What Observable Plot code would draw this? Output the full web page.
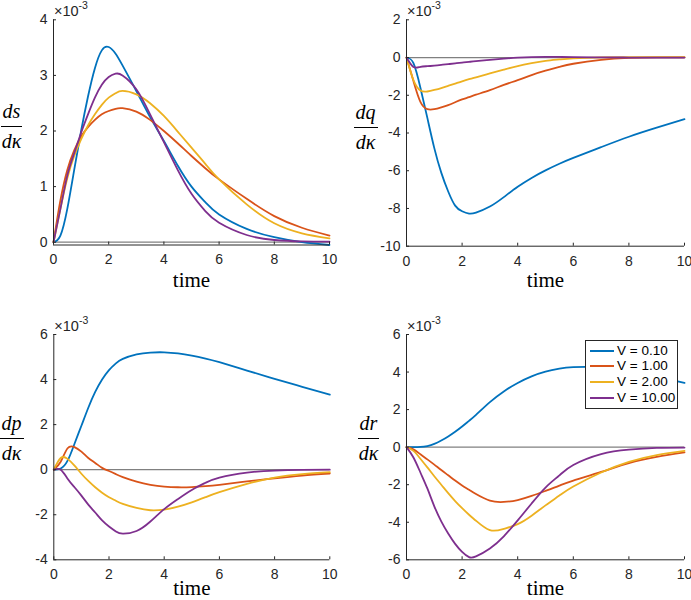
<!DOCTYPE html>
<html>
<head>
<meta charset="utf-8">
<script src="https://cdn.jsdelivr.net/npm/d3@7"></script>
<script src="https://cdn.jsdelivr.net/npm/@observablehq/plot@0.6"></script>
<style>
  body { margin: 0; background: #fff; }
  #fig { position: relative; width: 691px; height: 600px; overflow: hidden; background: #fff;
         font-family: "Liberation Sans", Arial, sans-serif; color: #262626; }
  .panel { position: absolute; }
  .frac { position: absolute; width: 40px; text-align: center; font-family: "Liberation Serif", serif;
          font-style: italic; font-size: 20px; color: #000; }
  .frac .num { display: inline-block; line-height: 20px; height: 20px; padding: 0 2px 5px 2px; border-bottom: 1px solid #000; }
  .frac .den { line-height: 20px; height: 20px; margin-top: 4px; }
  .expo { position: absolute; font-size: 14.5px; line-height: 14px; color: #262626; white-space: nowrap; }
  .expo .sup { position: relative; top: -7px; font-size: 10.5px; }
  .legend { position: absolute; background: #fff; border: 1px solid #262626; box-sizing: border-box; }
  .legend .row { position: absolute; left: 0; height: 16px; font-size: 13.5px; line-height: 16px; white-space: nowrap; color: #000; }
  .legend .sw { position: absolute; left: 4px; top: 7px; width: 24px; height: 2px; }
  .legend .lab { position: absolute; left: 31px; top: 0; }
</style>
</head>
<body>
<div id="fig"></div>
<script>
// ---- data (values in units of 10^-3) ----
const t = [0, 0.25, 0.5, 0.75, 1, 1.25, 1.5, 1.75, 2, 2.25, 2.5, 3, 3.5, 4, 4.5, 5, 5.5, 6, 7, 8, 9, 10];
const seriesNames = ["V = 0.10", "V = 1.00", "V = 2.00", "V = 10.00"];
const seriesColors = ["#0072BD", "#D95319", "#EDB120", "#7E2F8E"];
const xTicks = [0, 2, 4, 6, 8, 10];
const xLabel = "time";

// ds/dκ
const ds_V010 = [0, 0.12, 0.6, 1.3, 2.0, 2.62, 3.13, 3.45, 3.51, 3.39, 3.18, 2.72, 2.25, 1.82, 1.38, 1.0, 0.72, 0.5, 0.24, 0.09, 0.0, -0.05];
const ds_V1   = [0, 0.75, 1.3, 1.65, 1.9, 2.07, 2.2, 2.3, 2.36, 2.4, 2.41, 2.35, 2.2, 2.0, 1.78, 1.55, 1.33, 1.13, 0.78, 0.47, 0.26, 0.12];
const ds_V2   = [0, 0.6, 1.15, 1.55, 1.85, 2.1, 2.3, 2.47, 2.6, 2.68, 2.72, 2.66, 2.5, 2.27, 1.99, 1.7, 1.41, 1.13, 0.68, 0.34, 0.16, 0.07];
const ds_V10  = [0, 0.6, 1.2, 1.6, 1.97, 2.3, 2.6, 2.83, 2.97, 3.03, 3.0, 2.75, 2.3, 1.8, 1.3, 0.87, 0.56, 0.35, 0.13, 0.04, 0.015, 0.01];
const dsTicks = [0, 1, 2, 3, 4];

// dq/dκ
const dq_V010 = [0, -0.3, -1.6, -3.2, -4.8, -6.1, -7.1, -7.85, -8.15, -8.27, -8.22, -7.9, -7.4, -6.85, -6.38, -5.98, -5.63, -5.32, -4.75, -4.2, -3.72, -3.27];
const dq_V1   = [0, -1.25, -2.35, -2.74, -2.74, -2.64, -2.52, -2.37, -2.22, -2.1, -1.97, -1.73, -1.45, -1.2, -0.93, -0.7, -0.5, -0.33, -0.12, -0.02, 0.01, 0.01];
const dq_V2   = [0, -1.2, -1.75, -1.8, -1.72, -1.62, -1.5, -1.38, -1.26, -1.15, -1.05, -0.84, -0.64, -0.45, -0.3, -0.18, -0.1, -0.04, 0.01, 0.02, 0.02, 0.02];
const dq_V10  = [0, -0.5, -0.49, -0.46, -0.43, -0.39, -0.35, -0.31, -0.27, -0.23, -0.19, -0.12, -0.06, -0.01, 0.02, 0.03, 0.03, 0.02, 0.01, 0.0, 0.0, 0.0];
const dqTicks = [-10, -8, -6, -4, -2, 0, 2];

// dp/dκ
const dp_V010 = [0, 0.05, 0.4, 1.15, 1.95, 2.75, 3.45, 4.0, 4.42, 4.72, 4.92, 5.12, 5.2, 5.21, 5.16, 5.06, 4.93, 4.77, 4.4, 4.03, 3.68, 3.33];
const dp_V1   = [0, 0.35, 0.95, 1.0, 0.8, 0.52, 0.3, 0.08, -0.06, -0.2, -0.33, -0.53, -0.67, -0.75, -0.78, -0.77, -0.73, -0.67, -0.52, -0.38, -0.26, -0.17];
const dp_V2   = [0, 0.52, 0.48, 0.18, -0.18, -0.5, -0.78, -1.02, -1.22, -1.38, -1.52, -1.7, -1.8, -1.77, -1.64, -1.45, -1.22, -1.0, -0.63, -0.35, -0.2, -0.11];
const dp_V10  = [0, 0.0, -0.4, -0.78, -1.15, -1.55, -1.9, -2.25, -2.52, -2.74, -2.84, -2.72, -2.3, -1.75, -1.3, -0.9, -0.58, -0.35, -0.13, -0.04, -0.01, 0.0];
const dpTicks = [-4, -2, 0, 2, 4, 6];

// dr/dκ
const dr_V010 = [0, 0.0, 0.01, 0.06, 0.17, 0.35, 0.57, 0.82, 1.1, 1.4, 1.72, 2.4, 2.97, 3.42, 3.77, 4.02, 4.18, 4.26, 4.25, 4.05, 3.75, 3.42];
const dr_V1   = [0, -0.12, -0.38, -0.65, -0.93, -1.22, -1.5, -1.78, -2.04, -2.27, -2.5, -2.85, -2.92, -2.82, -2.6, -2.33, -2.05, -1.78, -1.32, -0.85, -0.52, -0.28];
const dr_V2   = [0, -0.2, -0.62, -1.08, -1.55, -2.0, -2.45, -2.87, -3.25, -3.6, -3.92, -4.42, -4.35, -4.1, -3.65, -3.1, -2.58, -2.1, -1.35, -0.78, -0.42, -0.2];
const dr_V10  = [0, -0.55, -1.35, -2.2, -3.15, -3.95, -4.6, -5.15, -5.58, -5.86, -5.82, -5.4, -4.75, -3.9, -3.0, -2.15, -1.5, -0.95, -0.37, -0.13, -0.04, -0.02];
const drTicks = [-6, -4, -2, 0, 2, 4, 6];

// ---- layout ----
const axisColor = "#262626";
const panels = [
  {left: 0,   top: 0,   w: 345, ml: 53, mr: 16, mt: 19.3, mb: 55.5, dom: [-0.05, 4], ticks: dsTicks, data: [ds_V010, ds_V1, ds_V2, ds_V10], num: "ds", fx: 11.5, fy: 125, xl: 41.5},
  {left: 345, top: 0,   w: 346, ml: 61, mr: 7,  mt: 19.3, mb: 54.3, dom: [-10, 2],   ticks: dqTicks, data: [dq_V010, dq_V1, dq_V2, dq_V10], num: "dq", fx: 20.5, fy: 126, xl: 41},
  {left: 0,   top: 300, w: 345, ml: 53.3, mr: 15.7, mt: 34, mb: 40.7, dom: [-4, 6], ticks: dpTicks, data: [dp_V010, dp_V1, dp_V2, dp_V10], num: "dp", fx: 11.5, fy: 137, xl: 35},
  {left: 345, top: 300, w: 346, ml: 61, mr: 7,  mt: 34, mb: 40.7, dom: [-6, 6],      ticks: drTicks, data: [dr_V010, dr_V1, dr_V2, dr_V10], num: "dr", fx: 23.5, fy: 137, xl: 35, legend: true}
];

const fig = document.getElementById("fig");
const H = 300;

panels.forEach(p => {
  const rows = [];
  p.data.forEach((arr, i) => arr.forEach((v, j) => rows.push({t: t[j], v, s: seriesNames[i]})));
  const plotH = H - p.mt - p.mb;
  const plotW = p.w - p.ml - p.mr;
  const chart = Plot.plot({
    width: p.w, height: H,
    marginLeft: p.ml, marginRight: p.mr, marginTop: p.mt, marginBottom: p.mb,
    x: {domain: [0, 10], label: null},
    y: {domain: p.dom, label: null},
    color: {domain: seriesNames, range: seriesColors},
    style: {fontFamily: "'Liberation Sans', Arial, sans-serif", fontSize: "14px", color: axisColor, background: "transparent", overflow: "visible"},
    marks: [
      Plot.ruleY([0], {stroke: "#808080", strokeWidth: 1.3}),
      Plot.line(rows, {x: "t", y: "v", z: "s", stroke: "s", strokeWidth: 1.8, curve: "natural"}),
      Plot.ruleX([0], {stroke: axisColor, strokeWidth: 1}),
      Plot.ruleY([p.dom[0]], {stroke: axisColor, strokeWidth: 1}),
      Plot.ruleX(xTicks, {stroke: axisColor, insetTop: plotH - 3}),
      Plot.ruleY(p.ticks, {stroke: axisColor, insetRight: plotW - 3}),
      Plot.axisX(xTicks, {tickSize: 0, tickPadding: 9.5, tickFormat: d => String(d), label: null, fill: axisColor}),
      Plot.axisY(p.ticks, {tickSize: 0, tickPadding: 6, tickFormat: d => String(d), label: null, fill: axisColor}),
      Plot.text([xLabel], {frameAnchor: "bottom", dy: p.xl, lineAnchor: "bottom", fontFamily: "'Liberation Serif', serif", fontSize: 21, fill: "#000"})
    ]
  });
  const div = document.createElement("div");
  div.className = "panel";
  div.style.left = p.left + "px";
  div.style.top = p.top + "px";
  div.style.width = p.w + "px";
  div.style.height = H + "px";
  div.appendChild(chart);
  fig.appendChild(div);

  // y label as fraction
  const fr = document.createElement("div");
  fr.className = "frac";
  fr.style.left = (p.left + p.fx - 20) + "px";
  fr.style.top = (p.top + p.fy - 25.5) + "px";
  fr.innerHTML = `<div class="num">${p.num}</div><div class="den">dκ</div>`;
  fig.appendChild(fr);

  // exponent label
  const ex = document.createElement("div");
  ex.className = "expo";
  ex.style.left = (p.left + p.ml + 1) + "px";
  ex.style.top = (p.top + p.mt - 3 - 12.3) + "px";
  ex.innerHTML = `×10<span class="sup">-3</span>`;
  fig.appendChild(ex);

  if (p.legend) {
    const lg = document.createElement("div");
    lg.className = "legend";
    lg.style.left = "585px";
    lg.style.top = "339.5px";
    lg.style.width = "93px";
    lg.style.height = "69px";
    seriesNames.forEach((name, i) => {
      const r = document.createElement("div");
      r.className = "row";
      r.style.top = (2 + i * 15.9) + "px";
      r.innerHTML = `<div class="sw" style="background:${seriesColors[i]}"></div><div class="lab">${name}</div>`;
      lg.appendChild(r);
    });
    fig.appendChild(lg);
  }
});
</script>
</body>
</html>
